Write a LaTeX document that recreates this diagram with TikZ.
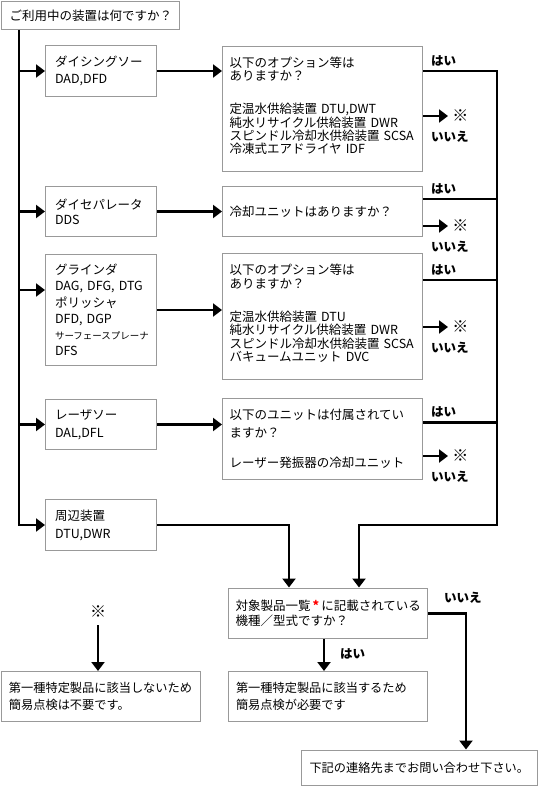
\documentclass[tikz,border=0pt]{standalone}
\usepackage{fontspec}
\setmainfont{Noto Sans CJK JP}
\usetikzlibrary{positioning, arrows.meta, calc}
\newcommand\tsize[2]{\fontsize{#1}{#2}\selectfont\lineskiplimit=-20pt\relax}
\tikzset{
  box/.style={draw=black!40, line width=1pt, anchor=north west, align=left, inner xsep=8pt, inner ysep=0pt, text=black},
  lead/.style 2 args={font={\tsize{#1}{#2}}},
  wire/.style={line width=2.8pt},
  wirearr/.style={line width=2.8pt, -{Triangle[length=9pt,width=13pt]}},
  lbl/.style={font={\tsize{12.5pt}{14pt}\bfseries}, inner sep=0pt, text=black},
  kome/.style={font={\tsize{16pt}{16pt}\bfseries}, inner sep=0pt, text=black},
}

\begin{document}
\begin{tikzpicture}[x=1pt, y=-1pt]
  \useasboundingbox (0,0) rectangle (538,786);
  % Question
  \node[box, lead={12.5pt}{14pt}, text width=162pt, minimum height=28pt] (ask) at (1,1) {ご利用中の装置は何ですか？};
  % Machines
  \node[box, lead={12.5pt}{17.5pt}, inner xsep=9.5pt, text width=92pt, minimum height=51pt] (dice) at (45,45) {ダイシングソー\\DAD,DFD};
  \node[box, lead={12.5pt}{15pt}, inner xsep=9.5pt, text width=92pt, minimum height=50pt] (sep) at (45,186) {ダイセパレータ\\DDS};
  \node[box, lead={12.5pt}{16.2pt}, inner xsep=9.5pt, text width=92pt, minimum height=111pt] (grind) at (45,254) {グラインダ\\DAG, DFG, DTG\\ポリッシャ\\DFD, DGP\\{\fontsize{9.5pt}{16.2pt}\selectfont サーフェースプレーナ}\\DFS};
  \node[box, lead={12.5pt}{17.5pt}, inner xsep=9.5pt, text width=92pt, minimum height=50pt] (laser) at (45,399) {レーザソー\\DAL,DFL};
  \node[box, lead={12.5pt}{18pt}, inner xsep=9.5pt, text width=92pt, minimum height=51pt] (periph) at (45,499) {周辺装置\\DTU,DWR};
  % Options
  \node[box, lead={12.5pt}{13.3pt}, inner xsep=7pt, text width=186pt, minimum height=125pt] (opt1) at (222,46) {以下のオプション等は\\ありますか？\\[20pt]定温水供給装置~DTU,DWT\\純水リサイクル供給装置~DWR\\スピンドル冷却水供給装置~SCSA\\冷凍式エアドライヤ~IDF\\[-6pt]\mbox{}};
  \node[box, lead={12.5pt}{13.3pt}, inner xsep=7pt, text width=186pt, minimum height=50pt] (opt2) at (222,186) {冷却ユニットはありますか？};
  \node[box, lead={12.5pt}{13.3pt}, inner xsep=7pt, text width=186pt, minimum height=126pt] (opt3) at (222,253) {以下のオプション等は\\ありますか？\\[20pt]定温水供給装置~DTU\\純水リサイクル供給装置~DWR\\スピンドル冷却水供給装置~SCSA\\バキュームユニット~DVC\\[-6pt]\mbox{}};
  \node[box, lead={12.5pt}{17.4pt}, inner xsep=7pt, text width=186pt, minimum height=81pt] (opt4) at (222,398) {以下のユニットは付属されてい\\ますか？\\[12.6pt]レーザー発振器の冷却ユニット};
  % Results
  \node[box, lead={12.5pt}{15pt}, inner xsep=7.5pt, text width=184.5pt, minimum height=50.5pt] (tgt) at (227.5,587.5) {対象製品一覧\,\textcolor{red}{\bfseries *}\,に記載されている\\機種／型式ですか？};
  \node[box, lead={12.2pt}{17.3pt}, text width=183.5pt, minimum height=49.5pt] (yes) at (227.5,671) {第一種特定製品に該当するため\\簡易点検が必要です};
  \node[box, lead={12.2pt}{17.3pt}, text width=183pt, minimum height=49.5pt] (notreq) at (0.5,671) {第一種特定製品に該当しないため\\簡易点検は不要です。};
  \node[box, lead={12.2pt}{14pt}, text width=220pt, minimum height=35.5pt] (contact) at (301,749.5) {下記の連絡先までお問い合わせ下さい。};
  \node[kome] (kome0) at (98,612) {※};

  % Trunk
  \coordinate (trunk) at ($(ask.south west)+(18,0)$);
  \coordinate (g-in) at ($(grind.north west)+(0,36)$);
  \draw[wirearr] (trunk) |- (periph.west);
  \draw[wirearr] (trunk |- dice.west) -- (dice.west);
  \draw[wirearr] (trunk |- sep.west) -- (sep.west);
  \draw[wirearr] (trunk |- g-in) -- (g-in);
  \draw[wirearr] (trunk |- laser.west) -- (laser.west);
  % Machines to options
  \draw[wirearr] (dice.east) -- (dice.east -| opt1.west);
  \draw[wirearr] (sep.east) -- (sep.east -| opt2.west);
  \draw[wirearr] (grind.east) -- (grind.east -| opt3.west);
  \draw[wirearr] (laser.east) -- (laser.east -| opt4.west);

  % Yes paths
  \coordinate (col) at ($(opt1.north east)+(74,0)$);
  \coordinate (y1) at ($(opt1.north east)+(0,25)$);
  \coordinate (y2) at ($(opt2.north east)+(0,13)$);
  \coordinate (y3) at ($(opt3.north east)+(0,27)$);
  \coordinate (y4) at ($(opt4.north east)+(0,24.5)$);
  \draw[wirearr] (y1) -| (col |- periph.west) -| ($(tgt.north west)+(131.5,0)$);
  \draw[wire] (y2) -- (y2 -| col);
  \draw[wire] (y3) -- (y3 -| col);
  \draw[wire] (y4) -- (y4 -| col);
  \foreach \i in {1,...,4}
    \node[lbl, above right=5pt and 8pt of y\i] {はい};

  % No paths
  \coordinate (n1) at ($(opt1.north east)+(0,70)$);
  \coordinate (n2) at ($(opt2.north east)+(0,40)$);
  \coordinate (n3) at ($(opt3.north east)+(0,74)$);
  \coordinate (n4) at ($(opt4.north east)+(0,58)$);
  \foreach \i in {1,...,4}{
    \draw[wirearr] (n\i) -- ++(25,0) node[kome, right=3pt] (k\i) {※};
    \node[lbl, below right=15pt and 8pt of n\i] {いいえ};
  }

  % Target question
  \draw[wirearr] (periph.east) -| ($(tgt.north west)+(61.5,0)$);
  \coordinate (t-out) at ($(tgt.south west)+(96.5,0)$);
  \draw[wirearr] (t-out) -- (t-out |- yes.north);
  \node[lbl, anchor=west] (t-yes) at ($(t-out)+(16,15)$) {はい};
  \draw[wirearr] (tgt.east) -| ($(contact.north west)+(165,0)$);
  \node[lbl, above right=10pt and 16pt of tgt.east] (t-no) {いいえ};
  \draw[wirearr] ($(kome0.south)+(0,7)$) -- (kome0.south |- notreq.north);
\end{tikzpicture}
\end{document}
